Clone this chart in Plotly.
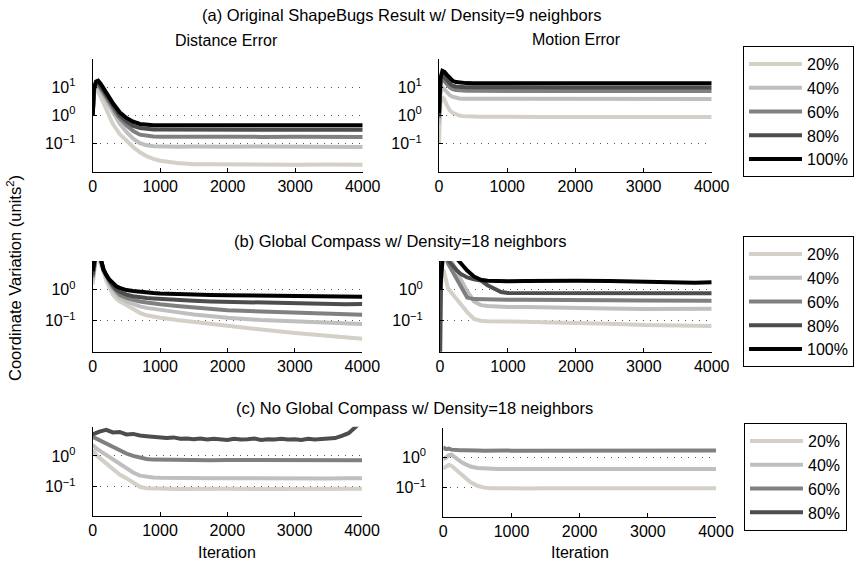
import plotly.graph_objects as go

W, H = 858, 564

LEVELS = ["20%", "40%", "60%", "80%", "100%"]
COLORS = ["#d4d0c8", "#bfbfbf", "#808080", "#4d4d4d", "#000000"]

ITER = [0, 20, 50, 80, 120, 160, 200, 250, 300, 350, 400, 500, 600, 700, 800, 900,
        1000, 1250, 1500, 1750, 2000, 2500, 3000, 3500, 3750, 4000]

X_TICKS = [0, 1000, 2000, 3000, 4000]

# (a) Original ShapeBugs, Density = 9 neighbors : Distance Error
A_DIST_20 = [1.0, 6, 9, 7, 4.5, 2.8, 1.6, 0.9, 0.5, 0.32, 0.22, 0.13, 0.076, 0.05, 0.036, 0.029,
             0.025, 0.021, 0.019, 0.019, 0.0185, 0.019, 0.018, 0.0185, 0.018, 0.018]
A_DIST_40 = [1.0, 7, 11, 10, 7, 4.8, 3.3, 2.0, 1.2, 0.78, 0.52, 0.26, 0.15, 0.105, 0.088, 0.082,
             0.08, 0.079, 0.08, 0.078, 0.079, 0.08, 0.078, 0.079, 0.078, 0.077]
A_DIST_60 = [1.0, 8, 13, 12, 9, 6.5, 4.6, 2.9, 1.8, 1.15, 0.8, 0.45, 0.28, 0.21, 0.19, 0.18,
             0.178, 0.175, 0.178, 0.176, 0.177, 0.175, 0.176, 0.174, 0.175, 0.175]
A_DIST_80 = [1.0, 9, 14, 14, 10.5, 7.5, 5.4, 3.4, 2.2, 1.45, 1.0, 0.62, 0.43, 0.36, 0.33, 0.32,
             0.318, 0.315, 0.32, 0.316, 0.318, 0.315, 0.317, 0.314, 0.316, 0.315]
A_DIST_100 = [1.0, 10, 16, 17, 13, 9.5, 6.6, 4.2, 2.7, 1.8, 1.3, 0.82, 0.6, 0.5, 0.465, 0.455,
              0.45, 0.45, 0.455, 0.445, 0.45, 0.45, 0.44, 0.45, 0.445, 0.45]

# (a) Motion Error
A_MOT_20 = [0.1, 2.5, 4.5, 3.6, 2.2, 1.5, 1.25, 1.08, 1.0, 0.95, 0.93, 0.91, 0.9, 0.9, 0.89, 0.9,
            0.89, 0.88, 0.89, 0.88, 0.88, 0.87, 0.87, 0.88, 0.88, 0.88]
A_MOT_40 = [0.5, 6, 10, 8.5, 6.3, 5.2, 4.6, 4.2, 4.0, 3.95, 3.95, 3.9, 3.9, 3.9, 3.9, 3.9,
            3.9, 3.88, 3.9, 3.88, 3.88, 3.87, 3.86, 3.87, 3.86, 3.86]
A_MOT_60 = [0.8, 12, 20, 17, 12.5, 9.8, 8.5, 7.9, 7.6, 7.5, 7.5, 7.45, 7.4, 7.4, 7.4, 7.4,
            7.4, 7.38, 7.4, 7.35, 7.38, 7.35, 7.35, 7.33, 7.35, 7.35]
A_MOT_80 = [1.0, 15, 28, 24, 17.5, 13.5, 11.3, 10.4, 10.1, 10, 10, 9.95, 9.9, 9.9, 9.9, 9.9,
            9.9, 9.85, 9.9, 9.85, 9.85, 9.85, 9.8, 9.85, 9.8, 9.8]
A_MOT_100 = [1.2, 20, 38, 35, 27, 20.5, 17, 15.2, 14.4, 14.1, 14, 13.9, 13.9, 13.9, 13.9, 13.85,
             13.9, 13.85, 13.9, 13.8, 13.85, 13.8, 13.8, 13.8, 13.8, 13.8]

# (b) Global Compass, Density = 18 neighbors : Distance Error
B_DIST_20 = [1.5, 6, 12, 11, 7, 4.0, 2.0, 1.1, 0.7, 0.52, 0.42, 0.32, 0.24, 0.18, 0.15, 0.135,
             0.125, 0.105, 0.09, 0.078, 0.068, 0.052, 0.04, 0.032, 0.029, 0.026]
B_DIST_40 = [2.0, 7, 14, 13, 8, 4.2, 2.6, 1.6, 1.0, 0.72, 0.56, 0.42, 0.34, 0.29, 0.26, 0.24,
             0.22, 0.19, 0.16, 0.14, 0.125, 0.105, 0.095, 0.086, 0.081, 0.078]
B_DIST_60 = [2.5, 8, 15, 14, 9, 4.3, 2.8, 1.8, 1.2, 0.86, 0.69, 0.55, 0.47, 0.42, 0.39, 0.36,
             0.34, 0.3, 0.27, 0.24, 0.22, 0.2, 0.18, 0.165, 0.16, 0.155]
B_DIST_80 = [3.0, 9, 16, 15, 9.5, 4.4, 2.9, 2.0, 1.4, 1.02, 0.86, 0.7, 0.62, 0.57, 0.54, 0.52,
             0.5, 0.47, 0.44, 0.42, 0.41, 0.39, 0.36, 0.33, 0.34, 0.35]
B_DIST_100 = [4.0, 10, 18, 16, 10, 4.6, 3.0, 2.1, 1.6, 1.3, 1.15, 0.98, 0.92, 0.86, 0.82, 0.79,
              0.76, 0.72, 0.7, 0.68, 0.67, 0.65, 0.63, 0.62, 0.61, 0.6]

# (b) Motion Error
B_MOT_20 = [0.5, 3.5, 4.5, 2.5, 1.1, 0.85, 0.65, 0.47, 0.33, 0.25, 0.19, 0.115, 0.1, 0.097, 0.095, 0.094,
            0.094, 0.092, 0.09, 0.088, 0.087, 0.08, 0.073, 0.07, 0.068, 0.068]
B_MOT_40 = [1.0, 8, 12, 12, 11, 9, 6.5, 4.0, 2.3, 1.4, 0.9, 0.42, 0.32, 0.3, 0.29, 0.29,
            0.28, 0.28, 0.27, 0.27, 0.26, 0.25, 0.24, 0.245, 0.245, 0.245]
B_MOT_60 = [1.5, 10, 14, 13, 7, 4.9, 3.4, 2.2, 1.45, 0.9, 0.56, 0.5, 0.49, 0.48, 0.48, 0.48,
            0.48, 0.48, 0.47, 0.47, 0.47, 0.46, 0.45, 0.45, 0.44, 0.44]
B_MOT_80 = [0.003, 10, 15, 15, 9, 7, 5.5, 4.2, 3.3, 2.8, 2.5, 2.2, 2.0, 1.4, 1.05, 0.85,
            0.79, 0.79, 0.78, 0.78, 0.78, 0.78, 0.78, 0.77, 0.78, 0.78]
B_MOT_100 = [1.0, 12, 18, 18, 16, 14, 12, 10, 7.5, 5.5, 4.2, 2.7, 2.1, 1.95, 1.9, 1.9,
             1.9, 1.92, 1.95, 1.95, 1.95, 1.92, 1.8, 1.75, 1.7, 1.75]

# (c) No Global Compass, Density = 18 neighbors : Distance Error
C_DIST_20 = [1.6, 1.3, 1.1, 0.95, 0.8, 0.68, 0.58, 0.48, 0.38, 0.3, 0.25, 0.19, 0.14, 0.1, 0.09, 0.087,
             0.088, 0.085, 0.087, 0.084, 0.086, 0.085, 0.086, 0.084, 0.085, 0.086]
C_DIST_40 = [2.3, 2.0, 1.8, 1.6, 1.4, 1.2, 1.05, 0.9, 0.75, 0.63, 0.52, 0.38, 0.29, 0.23, 0.21, 0.2,
             0.195, 0.19, 0.195, 0.19, 0.19, 0.185, 0.19, 0.185, 0.19, 0.19]
C_DIST_60 = [4.2, 4.0, 3.7, 3.4, 3.1, 2.8, 2.5, 2.2, 1.9, 1.7, 1.5, 1.2, 1.0, 0.88, 0.8, 0.76,
             0.75, 0.74, 0.74, 0.73, 0.74, 0.73, 0.73, 0.72, 0.73, 0.72]
C_ITER_80 = [0, 100, 200, 300, 400, 500, 600, 700, 800, 900, 1000, 1100, 1200, 1300, 1400,
             1500, 1600, 1700, 1800, 1900, 2000, 2100, 2200, 2300, 2400, 2500, 2600, 2700,
             2800, 2900, 3000, 3100, 3200, 3300, 3400, 3500, 3600, 3700, 3800, 3900, 4000]
C_DIST_80 = [5.0, 6.2, 7.0, 5.8, 6.0, 5.0, 5.2, 4.6, 4.4, 4.2, 4.1, 3.8, 4.0, 3.6, 3.7,
             3.5, 3.7, 3.4, 3.6, 3.5, 3.3, 3.6, 3.4, 3.5, 3.7, 3.3, 3.5, 3.4,
             3.6, 3.4, 3.5, 3.3, 3.6, 3.4, 3.5, 3.7, 3.8, 4.5, 5.5, 8.5, 14]

# (c) Motion Error (80% never appears inside the axes)
C_MOT_20 = [0.5, 0.45, 0.5, 0.55, 0.52, 0.44, 0.37, 0.3, 0.24, 0.19, 0.15, 0.115, 0.1, 0.096, 0.095, 0.096,
            0.095, 0.094, 0.096, 0.095, 0.094, 0.095, 0.094, 0.095, 0.095, 0.095]
C_MOT_40 = [1.0, 0.9, 1.0, 1.15, 1.2, 1.0, 0.85, 0.72, 0.62, 0.54, 0.49, 0.44, 0.42, 0.41, 0.41, 0.41,
            0.41, 0.405, 0.41, 0.405, 0.41, 0.405, 0.405, 0.41, 0.405, 0.41]
C_MOT_60 = [2.2, 1.9, 1.8, 1.9, 1.75, 1.7, 1.72, 1.66, 1.68, 1.64, 1.66, 1.64, 1.62, 1.65, 1.63, 1.64,
            1.62, 1.63, 1.62, 1.64, 1.62, 1.63, 1.64, 1.62, 1.63, 1.65]

FONT = "Liberation Sans, Arial, Helvetica, sans-serif"
FS = 16


def fx(px):
    return px / W


def fy(py):
    return 1 - py / H


fig = go.Figure()

panels = [
    ("x", "y", "legend", True,
     [(ITER, A_DIST_20), (ITER, A_DIST_40), (ITER, A_DIST_60), (ITER, A_DIST_80), (ITER, A_DIST_100)]),
    ("x2", "y2", "legend", False,
     [(ITER, A_MOT_20), (ITER, A_MOT_40), (ITER, A_MOT_60), (ITER, A_MOT_80), (ITER, A_MOT_100)]),
    ("x3", "y3", "legend2", True,
     [(ITER, B_DIST_20), (ITER, B_DIST_40), (ITER, B_DIST_60), (ITER, B_DIST_80), (ITER, B_DIST_100)]),
    ("x4", "y4", "legend2", False,
     [(ITER, B_MOT_20), (ITER, B_MOT_40), (ITER, B_MOT_60), (ITER, B_MOT_80), (ITER, B_MOT_100)]),
    ("x5", "y5", "legend3", True,
     [(ITER, C_DIST_20), (ITER, C_DIST_40), (ITER, C_DIST_60), (C_ITER_80, C_DIST_80)]),
    ("x6", "y6", "legend3", False,
     [(ITER, C_MOT_20), (ITER, C_MOT_40), (ITER, C_MOT_60)]),
]

for xa, ya, leg, show, series in panels:
    for i, (xs, ys) in enumerate(series):
        fig.add_trace(go.Scatter(
            x=xs, y=ys, mode="lines", name=LEVELS[i],
            line=dict(color=COLORS[i], width=4),
            xaxis=xa, yaxis=ya, legend=leg, showlegend=show,
            legendgroup=leg + LEVELS[i], hoverinfo="skip",
        ))

SUP = {10: "10<sup>1</sup>", 1: "10<sup>0</sup>", 0.1: "10<sup>\u22121</sup>"}


def xaxis(px0, px1, anchor):
    return dict(domain=[fx(px0), fx(px1)], range=[0, 4000], tickvals=X_TICKS,
                ticks="inside", ticklen=4, tickcolor="black", showline=True,
                linecolor="black", linewidth=1, showgrid=False, zeroline=False,
                tickfont=dict(size=16, color="black"), anchor=anchor, fixedrange=True)


def yaxis(py0, py1, rng, tv, anchor):
    return dict(domain=[fy(py1), fy(py0)], type="log", range=rng, tickvals=tv,
                ticktext=[SUP[v] for v in tv], ticks="inside", ticklen=4, tickcolor="black",
                showline=True, linecolor="black", linewidth=1, showgrid=True,
                gridcolor="#555555", griddash="1px,6px", gridwidth=1, zeroline=False,
                tickfont=dict(size=16, color="black"), anchor=anchor, fixedrange=True,
                ticklabelstandoff=13)


legend_style = dict(bgcolor="white", bordercolor="black", borderwidth=1,
                    font=dict(size=FS, color="black", family=FONT), itemwidth=53,
                    xref="container", yref="container",
                    xanchor="left", yanchor="top", tracegroupgap=0)

fig.update_layout(
    width=W, height=H, autosize=False, margin=dict(l=0, r=0, t=0, b=0, autoexpand=False),
    paper_bgcolor="white", plot_bgcolor="white",
    font=dict(family=FONT, size=FS, color="black"),
    xaxis=xaxis(92.7, 362.7, "y"),
    yaxis=yaxis(59, 172, [-2, 2], [0.1, 1, 10], "x"),
    xaxis2=xaxis(439, 711.7, "y2"),
    yaxis2=yaxis(59, 172, [-2, 2], [0.1, 1, 10], "x2"),
    xaxis3=xaxis(92.7, 362.3, "y3"),
    yaxis3=yaxis(261, 351.7, [-2, 0.93], [0.1, 1], "x3"),
    xaxis4=xaxis(440, 711.7, "y4"),
    yaxis4=yaxis(261, 351.7, [-2, 0.93], [0.1, 1], "x4"),
    xaxis5=xaxis(92.7, 362, "y5"),
    yaxis5=yaxis(426.7, 516, [-1.95, 0.95], [0.1, 1], "x5"),
    xaxis6=xaxis(443.3, 716, "y6"),
    yaxis6=yaxis(428, 516.7, [-1.95, 0.95], [0.1, 1], "x6"),
    legend=dict(x=fx(743), y=fy(46), **legend_style),
    legend2=dict(x=fx(743), y=fy(236), **legend_style),
    legend3=dict(x=fx(744), y=fy(423), **legend_style),
)

texts = [
    ("(a) Original ShapeBugs Result w/ Density=9 neighbors", 401, 15, 16.5),
    ("Distance Error", 226, 41, 16),
    ("Motion Error", 576, 40, 16),
    ("(b) Global Compass w/ Density=18 neighbors", 400, 241, 16.5),
    ("(c) No Global Compass w/ Density=18 neighbors", 414, 408, 16.5),
    ("Iteration", 227, 552, 16),
    ("Iteration", 580, 552, 16),
]
for t, px, py, fs in texts:
    fig.add_annotation(text=t, x=fx(px), y=fy(py), xref="paper", yref="paper",
                       xanchor="center", yanchor="middle", showarrow=False,
                       font=dict(size=fs, color="black", family=FONT))

fig.add_annotation(text="Coordinate Variation (units<sup>2</sup>)", x=fx(14), y=fy(278),
                   xref="paper", yref="paper", xanchor="center", yanchor="middle",
                   showarrow=False, textangle=-90,
                   font=dict(size=16.5, color="black", family=FONT))

fig.write_html("out.html", config={"responsive": False, "displayModeBar": False},
               post_script="document.body.style.margin='0px';")
